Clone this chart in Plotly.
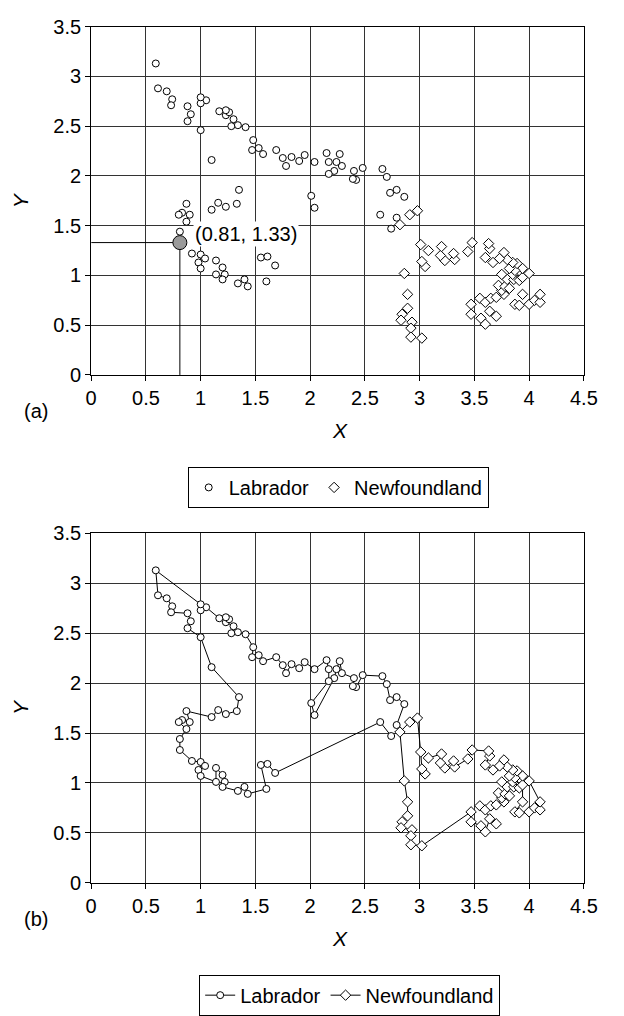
import plotly.graph_objects as go

# ---------------- data ----------------
lab_x = [2.79, 2.86, 2.79, 2.73, 2.70, 2.66, 2.48, 2.42, 2.39, 2.40, 2.29, 2.27, 2.24, 2.22,
         2.04, 2.01, 2.17, 2.17, 2.15, 2.04, 1.95, 1.90, 1.83, 1.78, 1.75, 1.69, 1.57, 1.53,
         1.47, 1.48, 1.41, 1.34, 1.28, 1.30, 1.23, 1.26, 1.23, 1.17, 1.05, 1.00, 1.00, 0.59,
         0.61, 0.69, 0.74, 0.73, 0.88, 0.91, 0.88, 1.00, 1.10, 1.35, 1.33, 1.23, 1.16, 1.10,
         0.87, 0.90, 0.83, 0.80, 0.87, 0.81, 0.81, 0.92, 1.00, 1.04, 0.98, 1.00, 1.14, 1.14,
         1.20, 1.22, 1.20, 1.34, 1.40, 1.43, 1.60, 1.55, 1.61, 1.68, 2.64, 2.74]
lab_y = [1.58, 1.79, 1.86, 1.83, 1.99, 2.07, 2.08, 1.96, 1.97, 2.05, 2.10, 2.22, 2.14, 2.05,
         1.68, 1.80, 2.02, 2.14, 2.23, 2.14, 2.21, 2.15, 2.19, 2.10, 2.18, 2.26, 2.22, 2.28,
         2.26, 2.36, 2.49, 2.51, 2.50, 2.57, 2.61, 2.64, 2.66, 2.65, 2.76, 2.73, 2.79, 3.13,
         2.88, 2.85, 2.77, 2.71, 2.70, 2.62, 2.55, 2.46, 2.16, 1.86, 1.72, 1.69, 1.73, 1.66,
         1.72, 1.61, 1.63, 1.61, 1.54, 1.44, 1.33, 1.22, 1.21, 1.17, 1.13, 1.07, 1.01, 1.15,
         1.08, 1.01, 0.96, 0.92, 0.96, 0.89, 0.94, 1.18, 1.19, 1.10, 1.61, 1.47]

nf_x = [3.05, 3.02, 3.01, 2.98, 2.91, 2.82, 2.86, 2.89, 2.89, 2.84, 2.83, 2.93, 2.92, 2.92,
        3.02, 3.47, 3.47, 3.56, 3.60, 3.64, 3.70, 3.55, 3.60, 3.65, 3.70, 3.77, 3.75, 3.72,
        3.78, 3.82, 3.80, 3.75, 3.86, 3.85, 3.91, 3.94, 3.94, 3.87, 3.91, 4.00, 4.05, 4.10,
        4.10, 4.00, 3.94, 3.87, 3.82, 3.89, 3.85, 3.80, 3.77, 3.73, 3.67, 3.60, 3.64, 3.63,
        3.48, 3.44, 3.32, 3.31, 3.23, 3.19, 3.20, 3.08]
nf_y = [1.09, 1.14, 1.31, 1.65, 1.61, 1.51, 1.02, 0.81, 0.67, 0.61, 0.55, 0.53, 0.47, 0.38,
        0.37, 0.71, 0.61, 0.57, 0.51, 0.64, 0.59, 0.77, 0.73, 0.77, 0.78, 0.81, 0.85, 0.90,
        0.89, 0.87, 0.96, 1.01, 0.96, 1.01, 0.95, 0.98, 0.81, 0.71, 0.70, 0.71, 0.75, 0.73,
        0.81, 1.02, 1.07, 1.05, 1.07, 1.12, 1.13, 1.16, 1.23, 1.17, 1.13, 1.18, 1.27, 1.32,
        1.33, 1.24, 1.16, 1.22, 1.15, 1.20, 1.29, 1.25]

series_names = ["Labrador", "Newfoundland"]
highlight_x = 0.81
highlight_y = 1.33
x_ticks = [0, 0.5, 1, 1.5, 2, 2.5, 3, 3.5, 4, 4.5]
y_ticks = [0, 0.5, 1, 1.5, 2, 2.5, 3, 3.5]

# ---------------- figure ----------------
FONT = "Liberation Sans, Arial, Helvetica, sans-serif"
W, H = 624, 1016
fig = go.Figure()

circ = dict(symbol="circle", size=7, color="white", line=dict(color="black", width=1))
diam = dict(symbol="diamond", size=8, color="white", line=dict(color="black", width=1))

# ---- panel (a)
fig.add_trace(go.Scatter(x=[0, highlight_x, highlight_x], y=[highlight_y, highlight_y, 0],
                         mode="lines", line=dict(color="black", width=1),
                         showlegend=False, hoverinfo="skip", xaxis="x", yaxis="y"))
fig.add_trace(go.Scatter(x=lab_x, y=lab_y, mode="markers", marker=circ, name=series_names[0],
                         xaxis="x", yaxis="y", legend="legend"))
fig.add_trace(go.Scatter(x=nf_x, y=nf_y, mode="markers", marker=diam, name=series_names[1],
                         xaxis="x", yaxis="y", legend="legend"))
fig.add_trace(go.Scatter(x=[highlight_x], y=[highlight_y], mode="markers",
                         marker=dict(symbol="circle", size=14, color="#9a9a9a",
                                     line=dict(color="black", width=1)),
                         showlegend=False, xaxis="x", yaxis="y"))

# ---- panel (b)
fig.add_trace(go.Scatter(x=lab_x, y=lab_y, mode="lines+markers", marker=circ,
                         line=dict(color="black", width=1), name=series_names[0],
                         xaxis="x2", yaxis="y2", legend="legend2"))
fig.add_trace(go.Scatter(x=nf_x, y=nf_y, mode="lines+markers", marker=diam,
                         line=dict(color="black", width=1), name=series_names[1],
                         xaxis="x2", yaxis="y2", legend="legend2"))

XDOM = [88 / W, 597 / W]
TOP = [1 - 372 / H, 1 - 16 / H]
BOT = [1 - 891 / H, 1 - 534 / H]

def xax(anchor):
    return dict(domain=XDOM, range=[0, 4.5], tickvals=x_ticks, showgrid=True,
                gridcolor="#333333", gridwidth=1, showline=True, linecolor="black",
                linewidth=1, mirror=True, ticks="outside", ticklen=5, tickcolor="black",
                tickfont=dict(family=FONT, size=20, color="black"), zeroline=False,
                anchor=anchor)

def yax(dom, anchor):
    return dict(domain=dom, range=[0, 3.5], tickvals=y_ticks, showgrid=True,
                gridcolor="#333333", gridwidth=1, showline=True, linecolor="black",
                linewidth=1, mirror=True, ticks="outside", ticklen=5, tickcolor="black",
                tickfont=dict(family=FONT, size=20, color="black"), zeroline=False,
                anchor=anchor)

legend_style = dict(orientation="h", xanchor="center", yanchor="top",
                    bordercolor="black", borderwidth=1, bgcolor="white",
                    font=dict(family=FONT, size=20, color="black"),
                    itemwidth=30, tracegroupgap=0)

ann = []
txt = dict(family=FONT, size=20, color="black")
it = dict(family=FONT, size=21, color="black", style="italic")
for y_lab, y_x, y_tag, y_mid in [(1 - 429 / H, "(a)", 1 - 409 / H, 1 - 194 / H),
                                  (1 - 948 / H, "(b)", 1 - 928 / H, 1 - 712 / H)]:
    ann.append(dict(text="X", x=345 / W, y=y_lab, xref="paper", yref="paper",
                    showarrow=False, font=it, xanchor="center", yanchor="middle"))
    ann.append(dict(text=y_x, x=31 / W, y=y_tag, xref="paper", yref="paper",
                    showarrow=False, font=txt, xanchor="center", yanchor="middle"))
    ann.append(dict(text="Y", x=15 / W, y=y_mid, xref="paper", yref="paper",
                    showarrow=False, font=it, textangle=-90,
                    xanchor="center", yanchor="middle"))
ann.append(dict(text=f"({highlight_x}, {highlight_y})", x=0.93, y=1.42, xref="x", yref="y",
                showarrow=False, font=txt, xanchor="left", yanchor="middle",
                bgcolor="white", borderpad=1))

fig.update_layout(
    width=W, height=H, margin=dict(l=0, r=0, t=0, b=0),
    paper_bgcolor="white", plot_bgcolor="white",
    xaxis=xax("y"), yaxis=yax(TOP, "x"),
    xaxis2=xax("y2"), yaxis2=yax(BOT, "x2"),
    legend=dict(legend_style, x=0.55, y=1 - 466 / H),
    legend2=dict(legend_style, x=0.569, y=1 - 985 / H),
    annotations=ann,
    font=dict(family=FONT, color="black"),
)

fig.write_html("out.html")
